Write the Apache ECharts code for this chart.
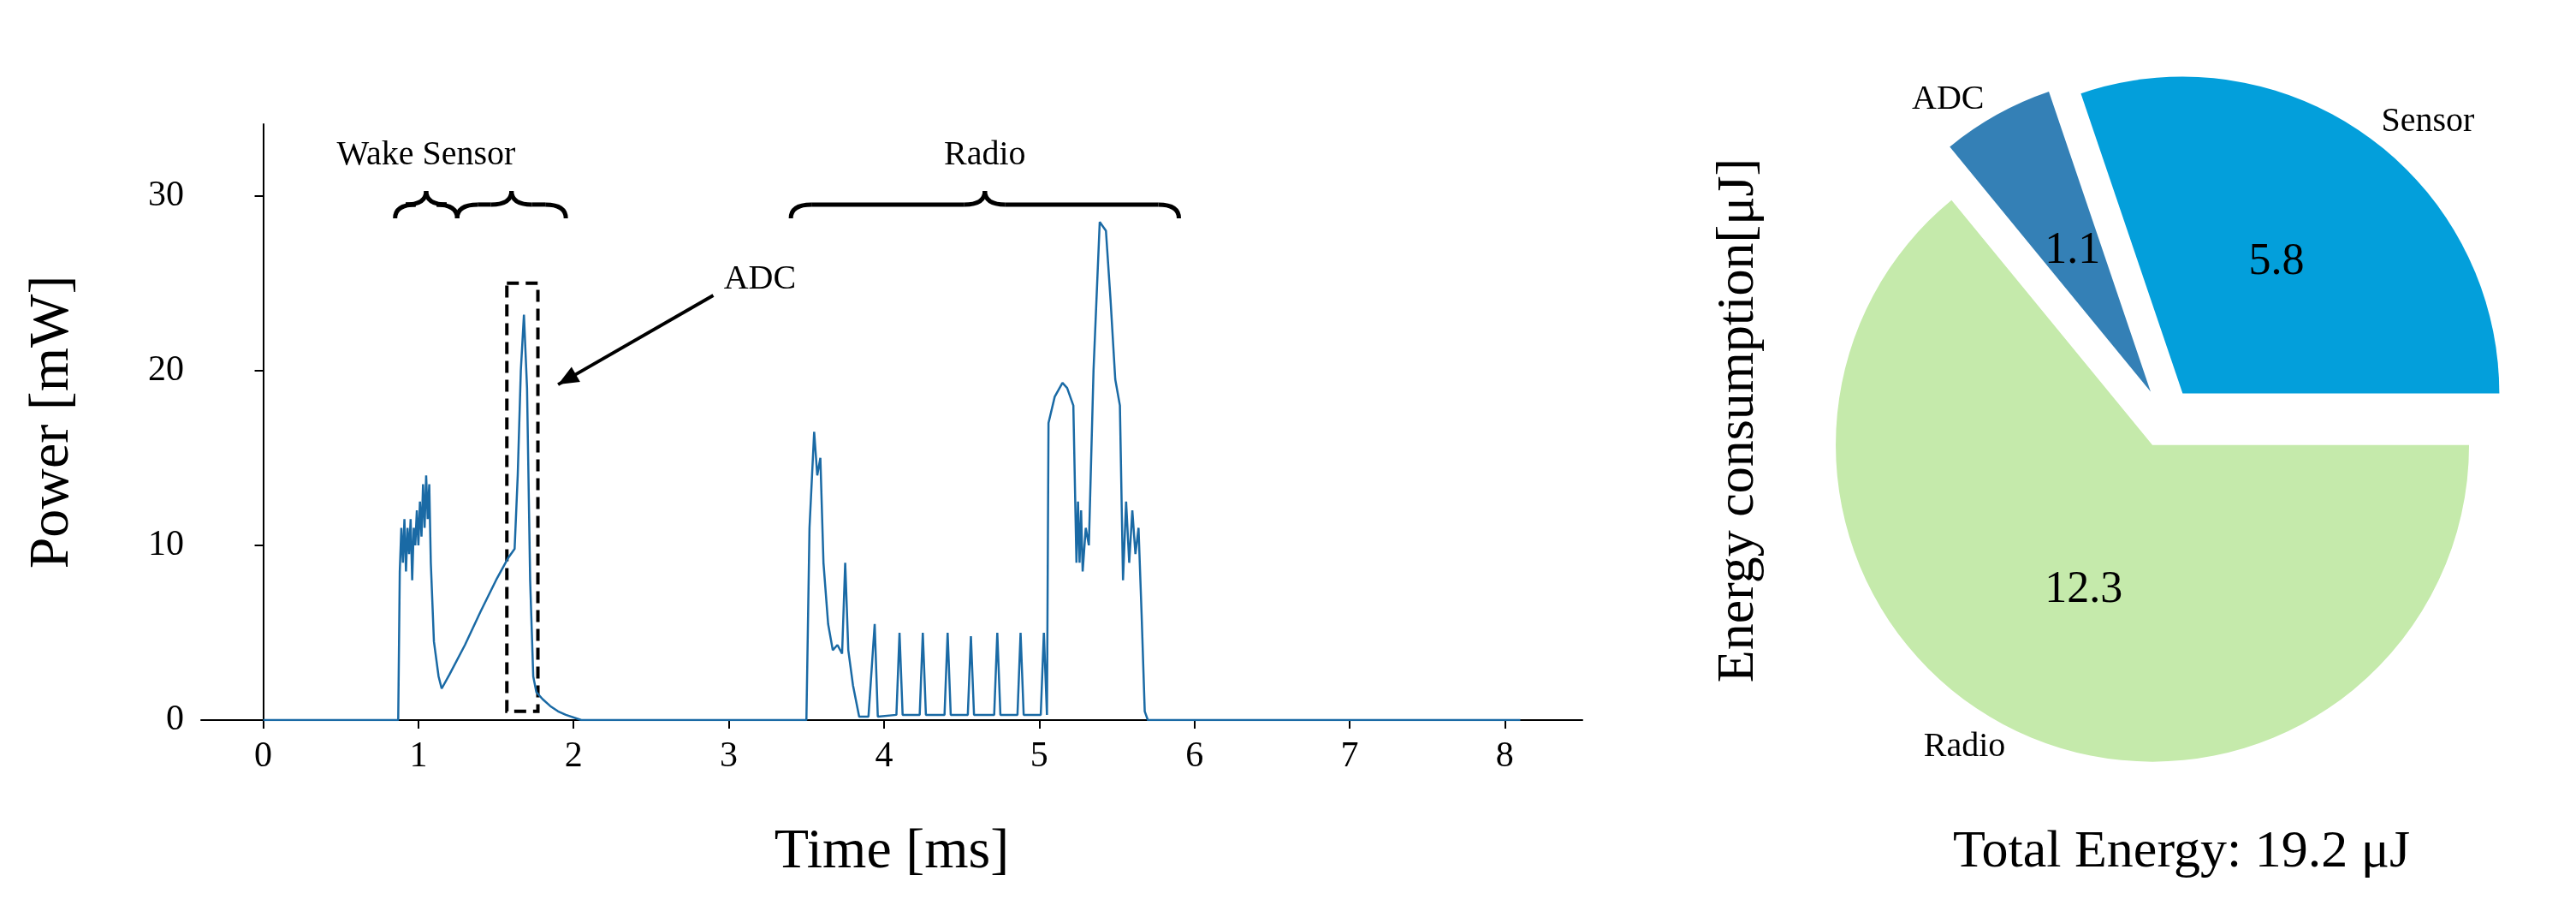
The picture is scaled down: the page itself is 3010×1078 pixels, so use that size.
<!DOCTYPE html>
<html>
<head>
<meta charset="utf-8">
<script src="https://cdn.jsdelivr.net/npm/echarts@6/dist/echarts.min.js"></script>
<style>
  html, body { margin: 0; padding: 0; background: #fff; }
  #chart { width: 3010px; height: 1078px; }
</style>
</head>
<body>
<div id="chart"></div>
<script>
// power trace: [time ms, power mW]
const powerTrace = [
  [0, 0], [0.5, 0], [0.87, 0], [0.88, 8.5], [0.89, 11], [0.9, 9], [0.91, 11.5], [0.92, 8.5],
  [0.93, 11], [0.94, 9.5], [0.95, 11.5], [0.96, 8], [0.97, 11], [0.98, 10], [0.99, 12],
  [1.0, 10], [1.01, 12.5], [1.02, 10.5], [1.03, 13.5], [1.04, 11], [1.05, 14], [1.06, 11.5],
  [1.07, 13.5], [1.08, 9], [1.1, 4.5], [1.13, 2.5], [1.15, 1.8], [1.2, 2.6], [1.3, 4.3],
  [1.4, 6.2], [1.5, 8], [1.58, 9.3], [1.62, 9.8], [1.64, 14], [1.66, 20], [1.68, 23.2],
  [1.7, 19], [1.72, 8], [1.74, 2.5], [1.76, 1.6], [1.8, 1.2], [1.85, 0.8], [1.9, 0.5],
  [1.95, 0.3], [2.05, 0], [3.5, 0], [3.52, 11], [3.55, 16.5], [3.57, 14], [3.59, 15],
  [3.61, 9], [3.64, 5.5], [3.67, 4], [3.7, 4.3], [3.73, 3.8], [3.75, 9], [3.77, 4],
  [3.8, 2], [3.84, 0.2], [3.9, 0.2], [3.94, 5.5], [3.96, 0.2], [4.08, 0.3], [4.1, 5],
  [4.12, 0.3], [4.23, 0.3], [4.25, 5], [4.27, 0.3], [4.39, 0.3], [4.41, 5], [4.43, 0.3],
  [4.54, 0.3], [4.56, 4.8], [4.58, 0.3], [4.71, 0.3], [4.73, 5], [4.75, 0.3], [4.86, 0.3],
  [4.88, 5], [4.9, 0.3], [5.01, 0.3], [5.03, 5], [5.05, 0.3], [5.06, 17], [5.1, 18.5],
  [5.15, 19.3], [5.18, 19], [5.22, 18], [5.24, 9], [5.25, 12.5], [5.26, 9], [5.27, 12],
  [5.28, 8.5], [5.3, 11], [5.32, 10], [5.35, 20], [5.39, 28.5], [5.43, 28], [5.46, 24],
  [5.49, 19.5], [5.52, 18], [5.54, 8], [5.56, 12.5], [5.58, 9], [5.6, 12], [5.62, 9.5],
  [5.64, 11], [5.66, 6], [5.68, 0.5], [5.7, 0], [8.1, 0]
];
const xTicks = [0, 1, 2, 3, 4, 5, 6, 7, 8];
const pieNames = ['Sensor', 'ADC', 'Radio'];
const pieValues = [5.8, 1.1, 12.3];
const pieColors = ['#039fdb', '#3480b6', '#c5eaab'];

const font = 'Liberation Serif';
const chart = echarts.init(document.getElementById('chart'));

// nudge value labels toward matplotlib's pctdistance
const valueLabelOffsets = [[45, -42], [10, -40], [5, 34]];
const pieCenter = [2530, 488];

const pieData = pieNames.map((name, i) => ({
  name, value: pieValues[i], selected: true, itemStyle: { color: pieColors[i] },
  label: { offset: valueLabelOffsets[i] }
}));

chart.setOption({
  animation: false,
  textStyle: { fontFamily: font, color: '#000' },
  grid: { left: 235, right: 1161, top: 145, bottom: 237 },
  xAxis: {
    type: 'value', min: -0.4, max: 8.5,
    name: 'Time [ms]', nameLocation: 'middle', nameGap: 122,
    nameTextStyle: { fontSize: 66, fontFamily: font, color: '#000' },
    splitLine: { show: false },
    axisLine: { lineStyle: { color: '#000', width: 2 } },
    axisTick: { customValues: xTicks, length: 10, lineStyle: { color: '#000', width: 2 } },
    axisLabel: { customValues: xTicks, fontSize: 42, margin: 22, color: '#000' }
  },
  yAxis: {
    type: 'value', min: 0, max: 34.1, interval: 10,
    name: 'Power [mW]', nameLocation: 'middle', nameGap: 140,
    nameTextStyle: { fontSize: 66, fontFamily: font, color: '#000' },
    splitLine: { show: false },
    axisLine: { show: true, lineStyle: { color: '#000', width: 2 } },
    axisTick: { show: true, length: 10, lineStyle: { color: '#000', width: 2 } },
    axisLabel: { fontSize: 42, margin: 20, color: '#000', showMaxLabel: false }
  },
  series: [
    {
      type: 'line', data: powerTrace, showSymbol: false,
      lineStyle: { color: '#1a6aa5', width: 2.5 }
    },
    {
      type: 'pie', center: pieCenter, radius: [0, 370],
      clockwise: false, startAngle: 0, selectedMode: 'multiple', selectedOffset: 35,
      label: { position: 'inside', formatter: '{c}', fontSize: 52, color: '#000', fontFamily: font },
      labelLine: { show: false },
      emphasis: { disabled: true },
      data: pieData
    },
    {
      type: 'pie', center: pieCenter, radius: [0, 370],
      clockwise: false, startAngle: 0, selectedMode: 'multiple', selectedOffset: 35,
      silent: true,
      itemStyle: { color: 'rgba(0,0,0,0)' },
      label: { position: 'outside', formatter: '{b}', fontSize: 40, color: '#000', fontFamily: font },
      labelLine: { show: false, length: 20, length2: 0 },
      data: pieNames.map((name, i) => ({ name, value: pieValues[i], selected: true }))
    }
  ]
});

// annotations placed through the axis scale
const px = (x, y) => chart.convertToPixel({ seriesIndex: 0 }, [x, y]);
const braceY = 29.5;
const braceStyle = { stroke: '#000', lineWidth: 5, fill: null };
function curve(x1, y1, cx, cy, x2, y2) {
  return { type: 'bezierCurve', shape: { x1, y1, x2, y2, cpx1: cx, cpy1: cy }, style: braceStyle };
}
function seg(x1, y1, x2, y2) {
  return { type: 'line', shape: { x1, y1, x2, y2 }, style: braceStyle };
}
function brace(x1, x2) {
  const a = px(x1, braceY), b = px(x2, braceY);
  const h = 16, w = h * 1.5, y = a[1], m = (a[0] + b[0]) / 2;
  return {
    type: 'group',
    children: [
      curve(a[0], y + h, a[0], y, a[0] + w, y),
      seg(a[0] + w, y, m - w, y),
      curve(m - w, y, m, y, m, y - h),
      curve(m, y - h, m, y, m + w, y),
      seg(m + w, y, b[0] - w, y),
      curve(b[0] - w, y, b[0], y, b[0], y + h)
    ]
  };
}
function label(text, x, y, size) {
  const p = px(x, y);
  return { type: 'text', x: p[0], y: p[1], style: { text, font: `${size}px "${font}"`, fill: '#000', align: 'center', verticalAlign: 'middle' } };
}
const r1 = px(1.57, 25), r2 = px(1.77, 0.5);
const arrowFrom = [px(2.9, 0)[0], px(0, 24.3)[1]];
const arrowTo = px(1.9, 19.2);
const ang = Math.atan2(arrowTo[1] - arrowFrom[1], arrowTo[0] - arrowFrom[0]);
const head = 26;
chart.setOption({
  graphic: [
    brace(0.85, 1.25),
    brace(1.25, 1.95),
    brace(3.4, 5.9),
    label('Wake Sensor', 1.05, 32.3, 40),
    label('Radio', 4.65, 32.3, 40),
    label('ADC', 3.2, 25.2, 40),
    {
      type: 'rect', shape: { x: r1[0], y: r1[1], width: r2[0] - r1[0], height: r2[1] - r1[1] },
      style: { stroke: '#000', lineWidth: 4, fill: null, lineDash: [14, 8] }
    },
    {
      type: 'line', shape: { x1: arrowFrom[0], y1: arrowFrom[1], x2: arrowTo[0], y2: arrowTo[1] },
      style: { stroke: '#000', lineWidth: 4 }
    },
    {
      type: 'polygon',
      shape: { points: [
        arrowTo,
        [arrowTo[0] - head * Math.cos(ang - 0.4), arrowTo[1] - head * Math.sin(ang - 0.4)],
        [arrowTo[0] - head * Math.cos(ang + 0.4), arrowTo[1] - head * Math.sin(ang + 0.4)]
      ] },
      style: { fill: '#000' }
    },
    {
      type: 'text', x: 2032, y: 491, rotation: Math.PI / 2,
      style: { text: 'Energy consumption[μJ]', font: `62px "${font}"`, fill: '#000', align: 'center', verticalAlign: 'middle' }
    },
    {
      type: 'text', x: 2549, y: 996,
      style: { text: 'Total Energy: 19.2 μJ', font: `62px "${font}"`, fill: '#000', align: 'center', verticalAlign: 'middle' }
    }
  ]
});
</script>
</body>
</html>
